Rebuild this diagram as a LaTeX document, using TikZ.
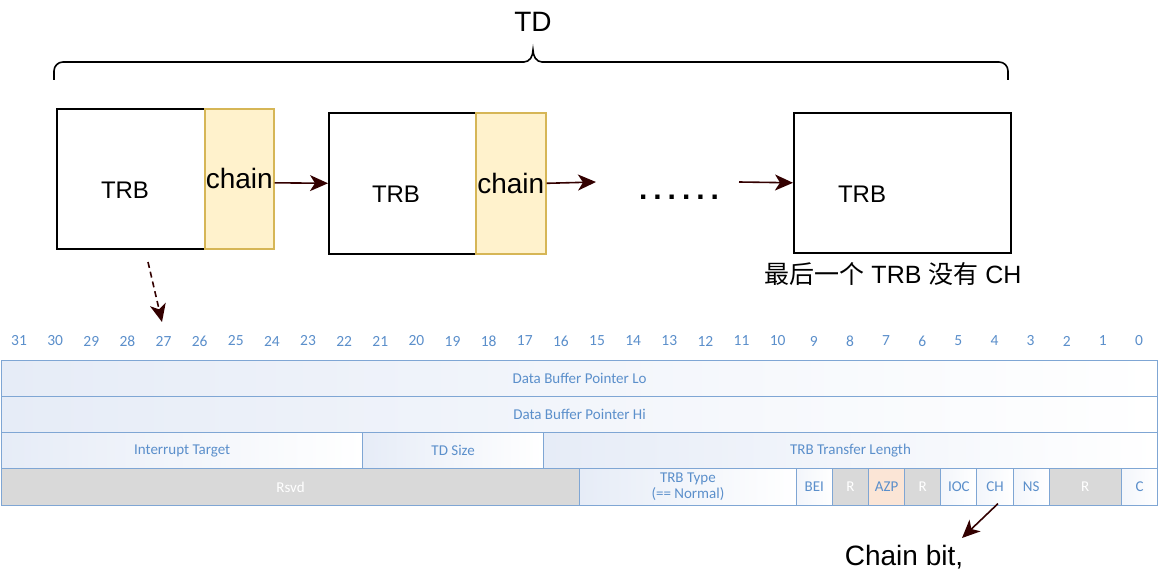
\documentclass[tikz,border=0pt]{standalone}
\usepackage{fontspec}
\setmainfont{Liberation Sans}
\newfontfamily\cjk{Noto Sans CJK SC}
\newfontfamily\calib{Carlito}
\usetikzlibrary{arrows.meta}
\definecolor{tblue}{HTML}{7FA6D4}
\definecolor{ttext}{HTML}{5B8FCB}
\definecolor{rgray}{HTML}{D9D9D9}
\definecolor{azpfill}{HTML}{FBE5D6}
\definecolor{chainfill}{HTML}{FFF2CC}
\definecolor{chaindraw}{HTML}{D6B656}
\definecolor{arr}{HTML}{330000}
\definecolor{gradc}{HTML}{E6ECF7}
\tikzset{arrowline/.style={draw=arr,line width=1.6pt,-{Stealth[length=18pt,width=16pt,inset=5pt]}}}
\newcommand\tcell[6]{%
  \node[cell,#5,minimum width={(#3-#4+1)*36.125}] (#1) at ({1+(31-#3)*36.125},{359.5+#2*36.25}) {#6};}
\begin{document}
\begin{tikzpicture}[
  trbbox/.style={draw=black,line width=1.6pt,fill=white,anchor=north west,inner sep=0pt},
  chainbox/.style={draw=chaindraw,line width=1.6pt,fill=chainfill,anchor=north west,inner sep=0pt,font=\fontsize{28}{30}\selectfont},
  bigtext/.style={font=\fontsize{24}{28}\selectfont,inner sep=0pt},
  cell/.style={anchor=north west,minimum height=36.25,inner sep=0pt,draw=tblue,line width=1.1pt,
    font=\calib\fontsize{15}{17}\selectfont,text=ttext,align=center},
  gradfill/.style={left color=gradc,right color=white},
  plainfill/.style={left color=gradc!50,right color=white},
  grayfill/.style={fill=rgray,text=white},
  azp/.style={fill=azpfill},
  bitnum/.style={font=\calib\fontsize{15.5}{17}\selectfont,text=ttext,inner sep=0pt}
]
\begin{scope}[x=1pt,y=-1pt]
\useasboundingbox[fill=white] (0,0) rectangle (1173,588);

% brace and TD
\node[font=\fontsize{28}{30}\selectfont,inner sep=0pt] (td) at (533,22) {TD};
\draw[line width=1.6pt] (54,80) -- (54,71) to[out=90,in=180] (63,62) -- (524,62)
  to[out=0,in=-90] (533,50) to[out=-90,in=180] (542,62) -- (999,62)
  to[out=0,in=90] (1008,71) -- (1008,80);

% TRB boxes
\node[trbbox,minimum width=148,minimum height=140] (t1) at (56,108) {};
\node[chainbox,minimum width=69,minimum height=140] (ch1) at (204,108) {chain};
\node[bigtext] (l1) at (125,190) {TRB};
\node[trbbox,minimum width=147,minimum height=141] (t2) at (328,112) {};
\node[chainbox,minimum width=70,minimum height=141] (ch2) at (475,112) {chain};
\node[bigtext] (l2) at (396,194) {TRB};
\node[trbbox,minimum width=217,minimum height=140] (t3) at (793,112) {};
\node[bigtext] (l3) at (862,194) {TRB};
\node[font=\bfseries\fontsize{30}{32}\selectfont,inner sep=0pt] (dots) at (679,197)
  {.\hspace{6pt}.\hspace{6pt}.\hspace{6pt}.\hspace{6pt}.\hspace{6pt}.};
\node[font=\fontsize{25}{28}\selectfont,inner sep=0pt] (last) at (893,274) {{\cjk 最后一个} TRB {\cjk 没有} CH};

\coordinate (a2e) at (596,182);
\coordinate (a3s) at (739,182);
\coordinate (da1) at (148,262);
\coordinate (da2) at (162,322);

% bit numbers
\foreach \b in {0,...,31} {
  \node[bitnum] (b\b) at ({1+(31-\b)*36.125+18.06},341) {\b};
}

% table
\tcell{lo}{0}{31}{0}{gradfill}{Data Buffer Pointer Lo}
\tcell{hi}{1}{31}{0}{gradfill}{Data Buffer Pointer Hi}
\tcell{it}{2}{31}{22}{gradfill}{Interrupt Target}
\tcell{tds}{2}{21}{17}{gradfill}{TD Size}
\tcell{ttl}{2}{16}{0}{gradfill}{TRB Transfer Length}
\tcell{rsvd}{3}{31}{16}{grayfill}{Rsvd}
\tcell{ttype}{3}{15}{10}{gradfill}{TRB Type\\[-1pt](== Normal)}
\tcell{bei}{3}{9}{9}{plainfill}{BEI}
\tcell{r8}{3}{8}{8}{grayfill}{R}
\tcell{azpc}{3}{7}{7}{azp}{AZP}
\tcell{r6}{3}{6}{6}{grayfill}{R}
\tcell{ioc}{3}{5}{5}{plainfill}{IOC}
\tcell{chc}{3}{4}{4}{plainfill}{CH}
\tcell{ns}{3}{3}{3}{plainfill}{NS}
\tcell{r21}{3}{2}{1}{grayfill}{R}
\tcell{cc}{3}{0}{0}{plainfill}{C}

\coordinate (cbtip) at (962,538);
\node[font=\fontsize{28}{30}\selectfont,inner sep=0pt] (cbit) at (904,557) {Chain bit,};
\end{scope}

% connectors
\draw[arrowline] ([yshift=-4pt]ch1.east) -- (t2.west);
\draw[arrowline] (ch2.east) -- (a2e);
\draw[arrowline] (a3s) -- (t3.west);
\draw[arrowline,dash pattern=on 6pt off 4pt] (da1) -- (da2);
\draw[arrowline] ([xshift=3pt,yshift=2pt]chc.south) -- (cbtip);
\end{tikzpicture}
\end{document}
